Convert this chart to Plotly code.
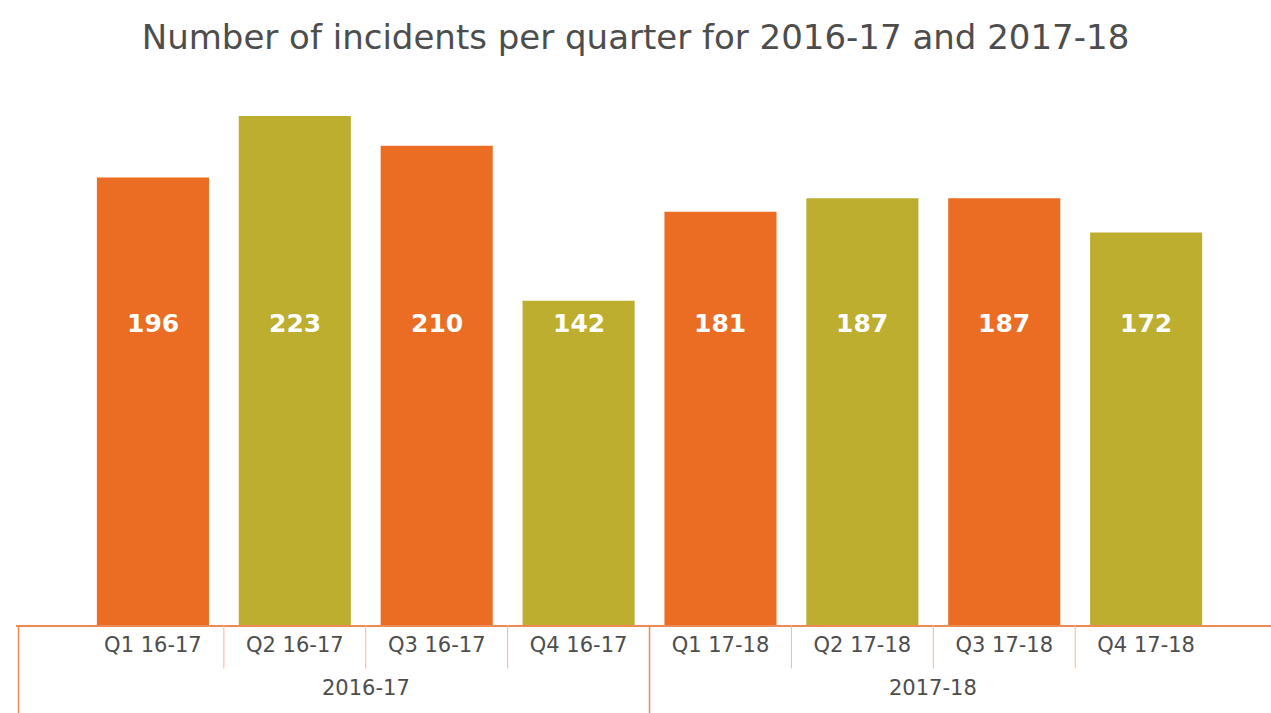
import plotly.graph_objects as go

quarters = ["Q1 16-17", "Q2 16-17", "Q3 16-17", "Q4 16-17",
            "Q1 17-18", "Q2 17-18", "Q3 17-18", "Q4 17-18"]
tick_text = ["Q1 16\u201117", "Q2 16\u201117", "Q3 16\u201117", "Q4 16\u201117",
             "Q1 17\u201118", "Q2 17\u201118", "Q3 17\u201118", "Q4 17\u201118"]
incidents = [196, 223, 210, 142, 181, 187, 187, 172]
years = ["2016-17", "2017-18"]
year_centers = [1.5, 5.5]

ORANGE = "#EB6D24"
OLIVE = "#BDAE30"
LINE = "#EE8A55"
TXT = "#4d4d4d"
FONT = "DejaVu Sans"
colors = [ORANGE if i % 2 == 0 else OLIVE for i in range(len(quarters))]

xpos = list(range(len(quarters)))

fig = go.Figure()
fig.add_trace(go.Bar(
    x=xpos, y=incidents, marker=dict(color=colors, line=dict(width=0)),
    hoverinfo="x+y",
))

# value labels at a constant height like the original
for xi, v in zip(xpos, incidents):
    fig.add_annotation(x=xi, y=132, text=f"<b>{v}</b>", showarrow=False,
                       font=dict(family=FONT, size=25, color="white"))

# group labels
for yr, c in zip(years, year_centers):
    fig.add_annotation(x=c, y=-0.12, yref="paper", xref="x", text=yr,
                       showarrow=False, yanchor="middle",
                       font=dict(family=FONT, size=21, color=TXT))

shapes = []
# short separators between quarter labels
for b in [0.5, 1.5, 2.5, 4.5, 5.5, 6.5]:
    shapes.append(dict(type="line", xref="x", yref="paper", x0=b, x1=b,
                       y0=0, y1=-0.083, line=dict(color="#F3B899", width=1)))
# full-height group separators
for b in [3.5]:
    shapes.append(dict(type="line", xref="x", yref="paper", x0=b, x1=b,
                       y0=0, y1=-0.17, line=dict(color=LINE, width=1.5)))
shapes.append(dict(type="line", xref="paper", yref="paper", x0=0.002, x1=0.002,
                   y0=0, y1=-0.17, line=dict(color=LINE, width=1.5)))

fig.update_layout(
    width=1271, height=713,
    margin=dict(l=16, r=0, t=100, b=88),
    plot_bgcolor="white", paper_bgcolor="white",
    bargap=0.21,
    showlegend=False,
    title=dict(text="Number of incidents per quarter for 2016-17 and 2017-18",
               x=0.5, xanchor="center", y=0.948, yanchor="middle",
               font=dict(family=FONT, size=34, color=TXT)),
    xaxis=dict(tickmode="array", tickvals=xpos, ticktext=tick_text,
               range=[-0.965, 7.88], showline=True, linecolor=LINE, linewidth=2,
               showgrid=False, zeroline=False, ticks="", ticklabelstandoff=0,
               tickfont=dict(family=FONT, size=21, color=TXT)),
    yaxis=dict(range=[0, 230], visible=False, showgrid=False, zeroline=False),
    shapes=shapes,
)

fig.write_html("out.html")
